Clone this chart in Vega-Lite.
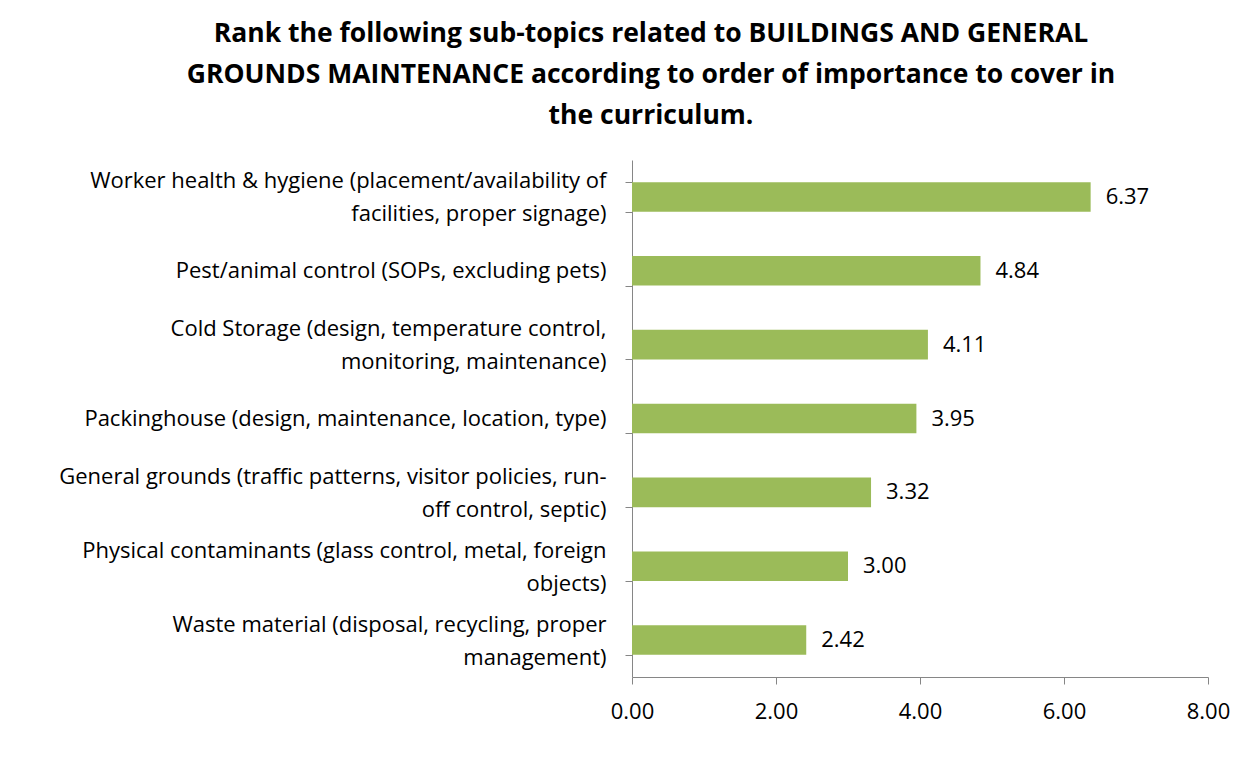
{
  "$schema": "https://vega.github.io/schema/vega-lite/v6.json",
  "width": 576,
  "height": 517,
  "autosize": {"type": "none"},
  "padding": {"left": 632, "top": 160, "right": 43, "bottom": 96},
  "background": "white",
  "title": {
    "text": ["Rank the following sub-topics related to BUILDINGS AND GENERAL", "GROUNDS MAINTENANCE according to order of importance to cover in", "the curriculum."],
    "anchor": "middle",
    "dx": -269,
    "offset": 20,
    "font": "Open Sans",
    "fontSize": 26.5,
    "fontWeight": "bold",
    "lineHeight": 41,
    "color": "black"
  },
  "config": {
    "view": {"stroke": null},
    "font": "Open Sans"
  },
  "data": {
    "values": [
      {"topic": "Worker health & hygiene (placement/availability of facilities, proper signage)", "score": 6.37},
      {"topic": "Pest/animal control (SOPs, excluding pets)", "score": 4.84},
      {"topic": "Cold Storage (design, temperature control, monitoring, maintenance)", "score": 4.11},
      {"topic": "Packinghouse (design, maintenance, location, type)", "score": 3.95},
      {"topic": "General grounds (traffic patterns, visitor policies, run-off control, septic)", "score": 3.32},
      {"topic": "Physical contaminants (glass control, metal, foreign objects)", "score": 3.00},
      {"topic": "Waste material (disposal, recycling, proper management)", "score": 2.42}
    ]
  },
  "resolve": {"axis": {"y": "independent"}},
  "encoding": {
    "x": {
      "field": "score",
      "type": "quantitative",
      "scale": {"domain": [0, 8]},
      "axis": {
        "title": null,
        "values": [0, 2, 4, 6, 8],
        "format": ".2f",
        "grid": false,
        "domainColor": "#868686",
        "tickColor": "#868686",
        "tickSize": 7,
        "labelFont": "Open Sans",
        "labelFontSize": 22,
        "labelColor": "black",
        "labelPadding": 17,
        "labelFlush": false
      }
    }
  },
  "layer": [
    {
      "mark": {"type": "bar", "color": "#9BBB59"},
      "encoding": {
        "y": {
          "field": "topic",
          "type": "nominal",
          "sort": null,
          "scale": {"paddingInner": 0.6, "paddingOuter": 0.3},
          "axis": {
            "orient": "left",
            "title": null,
            "grid": false,
            "domainColor": "#868686",
            "tickColor": "#868686",
            "tickSize": 7,
            "tickBand": "extent",
            "labelFont": "Open Sans",
            "labelFontSize": 22,
            "labelColor": "black",
            "labelAlign": "right",
            "labelPadding": 19,
            "labelLimit": 700,
            "labelLineHeight": 33,
            "labelOffset": -16,
            "labelExpr": "(indexof(datum.label, 'Pest') == 0 || indexof(datum.label, 'Packinghouse') == 0) ? '' : split(replace(replace(replace(replace(replace(datum.label, 'availability of ', 'availability of\\n'), 'control, monitoring', 'control,\\nmonitoring'), 'run-off', 'run-\\noff'), 'foreign ', 'foreign\\n'), 'proper management', 'proper\\nmanagement'), '\\n')"
          }
        }
      }
    },
    {
      "mark": {"type": "text", "align": "left", "dx": 15, "font": "Open Sans", "fontSize": 22, "color": "black"},
      "encoding": {
        "y": {
          "field": "topic",
          "type": "nominal",
          "sort": null,
          "axis": {
            "orient": "left",
            "title": null,
            "grid": false,
            "domain": false,
            "ticks": false,
            "labelFont": "Open Sans",
            "labelFontSize": 22,
            "labelColor": "black",
            "labelAlign": "right",
            "labelPadding": 26,
            "labelLimit": 700,
            "labelExpr": "(indexof(datum.label, 'Pest') == 0 || indexof(datum.label, 'Packinghouse') == 0) ? datum.label : ''"
          }
        },
        "text": {"field": "score", "type": "quantitative", "format": ".2f"}
      }
    }
  ]
}
